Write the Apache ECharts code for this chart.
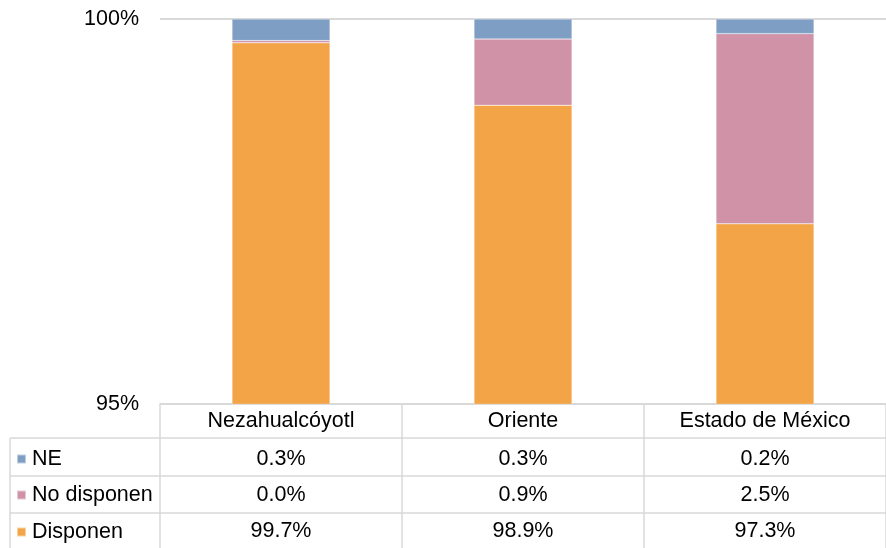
<!DOCTYPE html>
<html><head><meta charset="utf-8">
<script src="https://cdn.jsdelivr.net/npm/echarts@6/dist/echarts.min.js"></script>
<style>html,body{margin:0;padding:0;background:#fff}#c{width:886px;height:548px}</style>
</head><body><div id="c"></div>
<script>
var categories = ['Nezahualcóyotl', 'Oriente', 'Estado de México'];
var disponen = [99.69, 98.88, 97.34];
var noDisponen = [0.03, 0.86, 2.47];
var ne = [0.28, 0.26, 0.19];
var yTicks = [95, 100];

var FONT = '"Liberation Sans",Arial,sans-serif';
var FS = 21.5;
var GRAY = '#d9d9d9';
var C_ORANGE = '#F2A447', C_PINK = '#D092A7', C_BLUE = '#7F9EC4';
function pct(v){ return v.toFixed(1) + '%'; }

var chart = echarts.init(document.getElementById('c'), null, {renderer:'canvas'});

function rowAxis(offset, tickLen, margin, vals){
  return {
    type:'category', gridIndex:0, position:'bottom', offset:offset, data:categories,
    axisLine:{show:true, lineStyle:{color:GRAY, width:1.5}},
    axisTick:{show:true, length:tickLen, lineStyle:{color:GRAY, width:1.5}},
    axisLabel:{show:true, interval:0, margin:margin, fontFamily:FONT, fontSize:FS, color:'#000',
      formatter: function(v, i){ return vals ? pct(vals[i]) : v; }},
    splitLine:{show:false}
  };
}
function legendRow(name, top){
  return {
    orient:'horizontal', left:16, top:top, itemWidth:9, itemHeight:9, itemGap:0,
    icon:'rect', data:[name], padding:0,
    textStyle:{fontFamily:FONT, fontSize:FS, color:'#000', padding:[0,0,0,1]}, selectedMode:false
  };
}

var option = {
  animation:false,
  grid:{left:160, right:-12, top:19, bottom:144, containLabel:false},
  legend:[
    legendRow('NE', 448),
    legendRow('No disponen', 484),
    legendRow('Disponen', 521)
  ],
  xAxis:[
    rowAxis(0, 34, 6, null),
    rowAxis(34, 38, 10, ne),
    rowAxis(72, 37, 8, noDisponen),
    rowAxis(109, 40, 7, disponen)
  ],
  yAxis:{
    type:'value', min:yTicks[0], max:yTicks[1], interval:5,
    axisLine:{show:false}, axisTick:{show:false},
    axisLabel:{fontFamily:FONT, fontSize:FS, color:'#000', margin:21, formatter:function(v){return v+'%';}},
    splitLine:{show:true, lineStyle:{color:GRAY, width:2}}
  },
  series:[
    {name:'Disponen', type:'bar', stack:'a', data:disponen, barWidth:98, itemStyle:{color:C_ORANGE, borderColor:'rgba(255,255,255,0.5)', borderWidth:0.5}},
    {name:'No disponen', type:'bar', stack:'a', data:noDisponen, barWidth:98, itemStyle:{color:C_PINK, borderColor:'rgba(255,255,255,0.5)', borderWidth:0.5}},
    {name:'NE', type:'bar', stack:'a', data:ne, barWidth:98, itemStyle:{color:C_BLUE, borderColor:'rgba(255,255,255,0.5)', borderWidth:0.5}}
  ],
  graphic:[
    {type:'line', shape:{x1:10, y1:438, x2:160, y2:438}, style:{stroke:GRAY, lineWidth:1.5}},
    {type:'line', shape:{x1:10, y1:476, x2:160, y2:476}, style:{stroke:GRAY, lineWidth:1.5}},
    {type:'line', shape:{x1:10, y1:513, x2:160, y2:513}, style:{stroke:GRAY, lineWidth:1.5}},
    {type:'line', shape:{x1:10, y1:438, x2:10, y2:548}, style:{stroke:GRAY, lineWidth:1.5}}
  ]
};
chart.setOption(option);
</script></body></html>
